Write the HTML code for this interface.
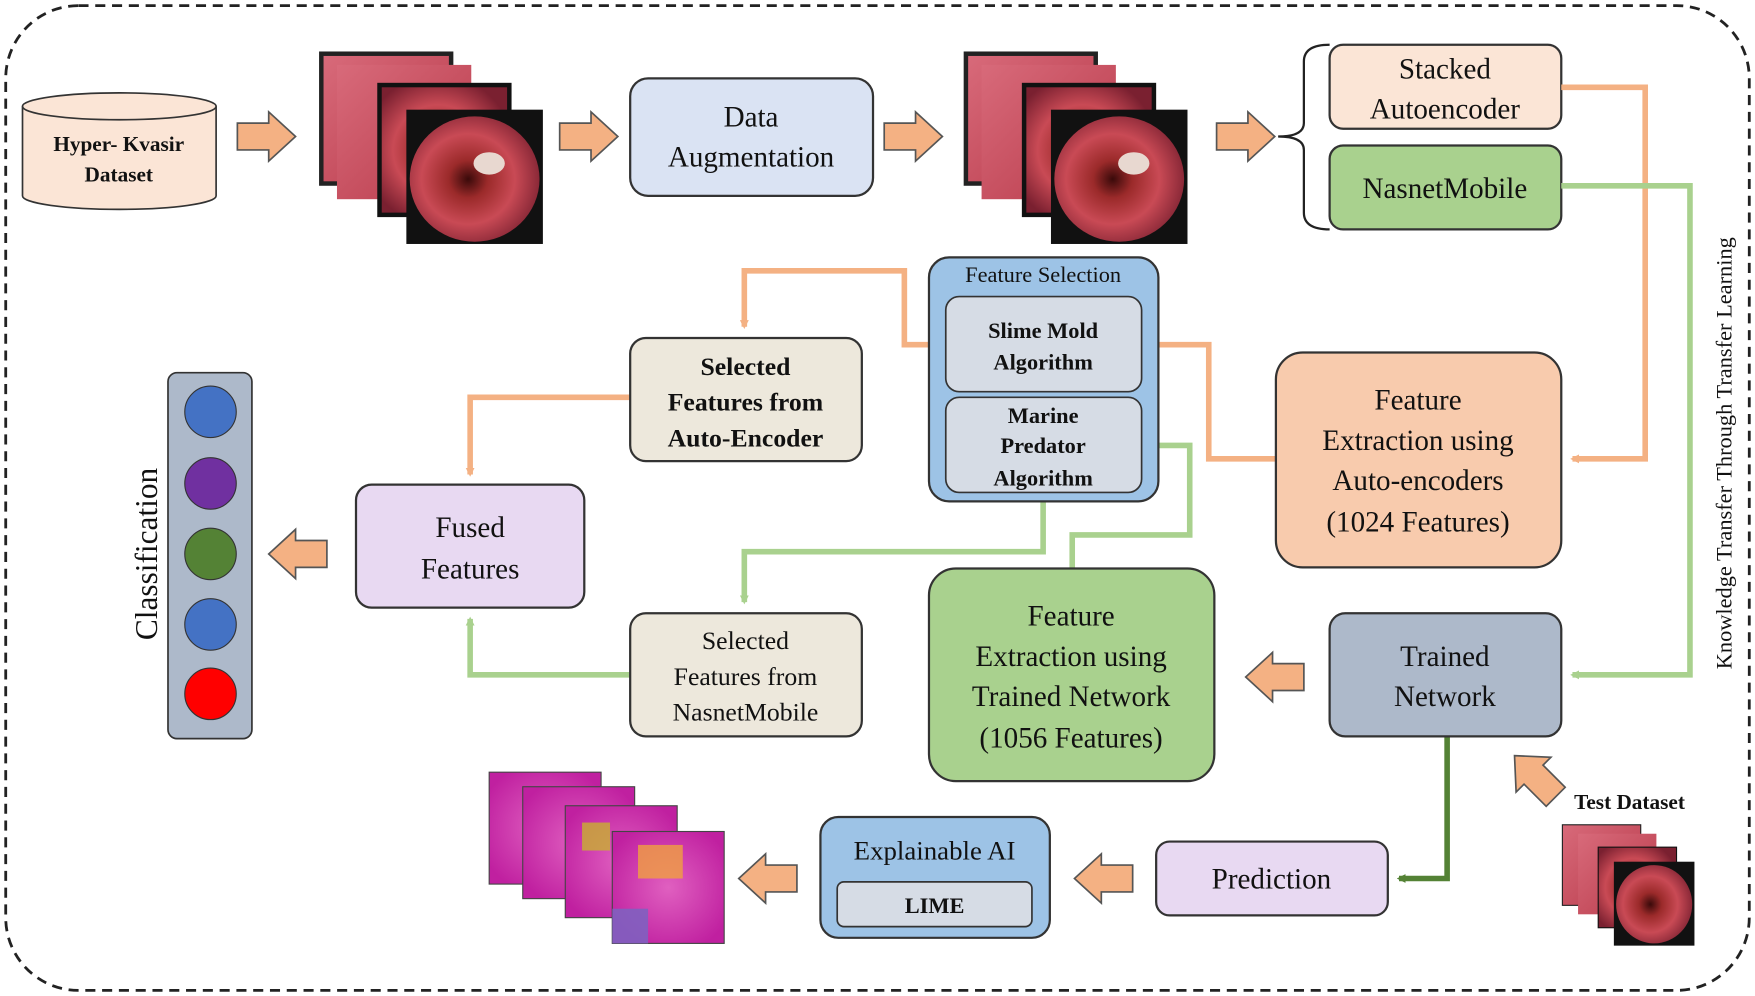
<!DOCTYPE html>
<html><head><meta charset="utf-8"><style>
html,body{margin:0;padding:0;background:#fff;width:1755px;height:996px;overflow:hidden}
svg{display:block}
text{font-family:"Liberation Serif",serif;fill:#111}
</style></head><body>
<svg width="1755" height="996" viewBox="0 0 1568 890" xmlns="http://www.w3.org/2000/svg">
<defs>
<radialGradient id="endo" cx="0.45" cy="0.5" r="0.6">
<stop offset="0" stop-color="#3a0a0a"/><stop offset="0.25" stop-color="#9b2a2a"/><stop offset="0.6" stop-color="#c94a55"/><stop offset="1" stop-color="#7a2030"/></radialGradient>
<linearGradient id="endo2" x1="0" y1="0" x2="1" y2="1"><stop offset="0" stop-color="#d86a7a"/><stop offset="1" stop-color="#b83a4a"/></linearGradient>
<radialGradient id="lime" cx="0.5" cy="0.5" r="0.6"><stop offset="0" stop-color="#e060c0"/><stop offset="1" stop-color="#c020a0"/></radialGradient>
<marker id="ao" markerWidth="8" markerHeight="8" refX="6" refY="4" orient="auto" markerUnits="userSpaceOnUse"><path d="M0,0 L8,4 L0,8 Z" fill="#f4b183"/></marker>
<marker id="ag" markerWidth="8" markerHeight="8" refX="6" refY="4" orient="auto" markerUnits="userSpaceOnUse"><path d="M0,0 L8,4 L0,8 Z" fill="#a9d18e"/></marker>
<marker id="adg" markerWidth="8" markerHeight="8" refX="6" refY="4" orient="auto" markerUnits="userSpaceOnUse"><path d="M0,0 L8,4 L0,8 Z" fill="#548235"/></marker>
<g id="barrow"><path d="M0,-12 L28,-12 L28,-22 L52,0 L28,22 L28,12 L0,12 Z" fill="#f4b183" stroke="#555" stroke-width="1.5"/></g>
<g id="stack">
<rect x="0" y="0" width="120" height="120" fill="#222"/><rect x="4" y="4" width="112" height="112" fill="url(#endo2)"/>
<rect x="16" y="12" width="120" height="120" fill="url(#endo2)"/>
<rect x="52" y="28" width="120" height="120" fill="#111"/><rect x="56" y="32" width="112" height="112" fill="url(#endo)"/>
<rect x="78" y="52" width="122" height="120" fill="#111"/><ellipse cx="139" cy="114" rx="58" ry="56" fill="url(#endo)"/>
<ellipse cx="152" cy="100" rx="14" ry="10" fill="#e8d8d0"/>
</g>
</defs>
<rect x="5" y="5" width="1558" height="880" rx="65" fill="#fff" stroke="#222" stroke-width="2.5" stroke-dasharray="9,6"/>

<!-- cylinder -->
<path d="M20,95 L20,175 A86,12 0 0 0 193,175 L193,95" fill="#fbe5d6" stroke="#333" stroke-width="1.5"/>
<ellipse cx="106.5" cy="95" rx="86.5" ry="12" fill="#fbe5d6" stroke="#333" stroke-width="1.5"/>
<text x="106" y="135" font-size="19" font-weight="bold" text-anchor="middle">Hyper- Kvasir</text>
<text x="106" y="162" font-size="19" font-weight="bold" text-anchor="middle">Dataset</text>

<use href="#barrow" x="212" y="122"/>
<use href="#stack" x="285" y="46"/>
<use href="#barrow" x="500" y="122"/>
<rect x="563" y="70" width="217" height="105" rx="16" fill="#dae3f3" stroke="#333" stroke-width="2"/>
<text x="671" y="113" font-size="26" text-anchor="middle">Data</text>
<text x="671" y="149" font-size="26" text-anchor="middle">Augmentation</text>
<use href="#barrow" x="790" y="122"/>
<use href="#stack" x="861" y="46"/>
<use href="#barrow" x="1087" y="122"/>
<path d="M1188,40 Q1165,40 1165,55 L1165,110 Q1165,122 1142,122 Q1165,122 1165,134 L1165,190 Q1165,205 1188,205" fill="none" stroke="#222" stroke-width="2"/>
<rect x="1188" y="40" width="207" height="75" rx="12" fill="#fbe5d6" stroke="#333" stroke-width="2"/>
<text x="1291" y="70" font-size="26" text-anchor="middle">Stacked</text>
<text x="1291" y="106" font-size="26" text-anchor="middle">Autoencoder</text>
<rect x="1188" y="130" width="207" height="75" rx="12" fill="#a9d18e" stroke="#333" stroke-width="2"/>
<text x="1291" y="177" font-size="26" text-anchor="middle">NasnetMobile</text>

<!-- connectors -->
<polyline points="1395,78 1470,78 1470,410 1405,410" fill="none" stroke="#f4b183" stroke-width="5" marker-end="url(#ao)"/>
<polyline points="1395,166 1510,166 1510,603 1405,603" fill="none" stroke="#a9d18e" stroke-width="5" marker-end="url(#ag)"/>
<text transform="translate(1547,405) rotate(-90)" font-size="20" text-anchor="middle">Knowledge Transfer Through Transfer Learning</text>

<polyline points="1140,410 1080,410 1080,308 1030,308" fill="none" stroke="#f4b183" stroke-width="5" marker-end="url(#ao)"/>
<polyline points="845,308 808,308 808,242 665,242 665,292" fill="none" stroke="#f4b183" stroke-width="5" marker-end="url(#ao)"/>
<polyline points="563,355 420,355 420,424" fill="none" stroke="#f4b183" stroke-width="5" marker-end="url(#ao)"/>
<polyline points="932,440 932,493 665,493 665,538" fill="none" stroke="#a9d18e" stroke-width="5" marker-end="url(#ag)"/>
<polyline points="563,603 420,603 420,553" fill="none" stroke="#a9d18e" stroke-width="5" marker-end="url(#ag)"/>
<polyline points="958,508 958,478 1063,478 1063,398 1030,398" fill="none" stroke="#a9d18e" stroke-width="5" marker-end="url(#ag)"/>
<polyline points="1293,658 1293,785 1250,785" fill="none" stroke="#548235" stroke-width="5" marker-end="url(#adg)"/>

<!-- feature selection -->
<rect x="830" y="230" width="205" height="218" rx="18" fill="#9dc3e6" stroke="#333" stroke-width="2"/>
<text x="932" y="252" font-size="20" text-anchor="middle">Feature Selection</text>
<rect x="845" y="265" width="175" height="85" rx="12" fill="#d6dce5" stroke="#333" stroke-width="1.5"/>
<text x="932" y="302" font-size="20" font-weight="bold" text-anchor="middle">Slime Mold</text>
<text x="932" y="330" font-size="20" font-weight="bold" text-anchor="middle">Algorithm</text>
<rect x="845" y="355" width="175" height="85" rx="12" fill="#d6dce5" stroke="#333" stroke-width="1.5"/>
<text x="932" y="378" font-size="20" font-weight="bold" text-anchor="middle">Marine</text>
<text x="932" y="405" font-size="20" font-weight="bold" text-anchor="middle">Predator</text>
<text x="932" y="434" font-size="20" font-weight="bold" text-anchor="middle">Algorithm</text>

<rect x="1140" y="315" width="255" height="192" rx="24" fill="#f8cbad" stroke="#333" stroke-width="2"/>
<text x="1267" y="366" font-size="26" text-anchor="middle">Feature</text>
<text x="1267" y="402" font-size="26" text-anchor="middle">Extraction using</text>
<text x="1267" y="438" font-size="26" text-anchor="middle">Auto-encoders</text>
<text x="1267" y="475" font-size="26" text-anchor="middle">(1024 Features)</text>

<rect x="563" y="302" width="207" height="110" rx="14" fill="#ede8dc" stroke="#333" stroke-width="2"/>
<text x="666" y="335" font-size="23" font-weight="bold" text-anchor="middle">Selected</text>
<text x="666" y="367" font-size="23" font-weight="bold" text-anchor="middle">Features from</text>
<text x="666" y="399" font-size="23" font-weight="bold" text-anchor="middle">Auto-Encoder</text>

<rect x="318" y="433" width="204" height="110" rx="14" fill="#e8d9f2" stroke="#333" stroke-width="2"/>
<text x="420" y="480" font-size="26" text-anchor="middle">Fused</text>
<text x="420" y="517" font-size="26" text-anchor="middle">Features</text>
<use href="#barrow" transform="translate(292,495) scale(-1,1)"/>

<rect x="150" y="333" width="75" height="327" rx="8" fill="#adb9ca" stroke="#333" stroke-width="1.5"/>
<circle cx="188" cy="368" r="23" fill="#4472c4" stroke="#333"/>
<circle cx="188" cy="432" r="23" fill="#7030a0" stroke="#333"/>
<circle cx="188" cy="495" r="23" fill="#548235" stroke="#333"/>
<circle cx="188" cy="558" r="23" fill="#4472c4" stroke="#333"/>
<circle cx="188" cy="620" r="23" fill="#ff0000" stroke="#333"/>
<text transform="translate(140,495) rotate(-90)" font-size="28" text-anchor="middle">Classification</text>

<rect x="563" y="548" width="207" height="110" rx="14" fill="#ede8dc" stroke="#333" stroke-width="2"/>
<text x="666" y="580" font-size="23" text-anchor="middle">Selected</text>
<text x="666" y="612" font-size="23" text-anchor="middle">Features from</text>
<text x="666" y="644" font-size="23" text-anchor="middle">NasnetMobile</text>

<rect x="830" y="508" width="255" height="190" rx="24" fill="#a9d18e" stroke="#333" stroke-width="2"/>
<text x="957" y="559" font-size="26" text-anchor="middle">Feature</text>
<text x="957" y="595" font-size="26" text-anchor="middle">Extraction using</text>
<text x="957" y="631" font-size="26" text-anchor="middle">Trained Network</text>
<text x="957" y="668" font-size="26" text-anchor="middle">(1056 Features)</text>
<use href="#barrow" transform="translate(1165,605) scale(-1,1)"/>

<rect x="1188" y="548" width="207" height="110" rx="14" fill="#adb9ca" stroke="#333" stroke-width="2"/>
<text x="1291" y="595" font-size="26" text-anchor="middle">Trained</text>
<text x="1291" y="631" font-size="26" text-anchor="middle">Network</text>

<rect x="1033" y="752" width="207" height="66" rx="12" fill="#e8d9f2" stroke="#333" stroke-width="2"/>
<text x="1136" y="794" font-size="26" text-anchor="middle">Prediction</text>
<use href="#barrow" transform="translate(1012,785) scale(-1,1)"/>

<rect x="733" y="730" width="205" height="108" rx="16" fill="#9dc3e6" stroke="#333" stroke-width="2"/>
<text x="835" y="768" font-size="24" text-anchor="middle">Explainable  AI</text>
<rect x="748" y="788" width="174" height="40" rx="6" fill="#d6dce5" stroke="#333" stroke-width="1.5"/>
<text x="835" y="816" font-size="20" font-weight="bold" text-anchor="middle">LIME</text>
<use href="#barrow" transform="translate(712,785) scale(-1,1)"/>

<!-- LIME images -->
<rect x="437" y="690" width="100" height="100" fill="url(#lime)" stroke="#444"/>
<rect x="467" y="703" width="100" height="100" fill="url(#lime)" stroke="#444"/>
<rect x="505" y="720" width="100" height="100" fill="url(#lime)" stroke="#444"/>
<rect x="520" y="735" width="25" height="25" fill="#c8b030" opacity="0.8"/>
<rect x="547" y="743" width="100" height="100" fill="url(#lime)" stroke="#444"/>
<rect x="570" y="755" width="40" height="30" fill="#f0a040" opacity="0.8"/>
<rect x="547" y="812" width="32" height="31" fill="#8060c0" opacity="0.9"/>

<!-- Test dataset -->
<path d="M0,-12 L28,-12 L28,-22 L52,0 L28,22 L28,12 L0,12 Z" transform="translate(1390,712) rotate(-135)" fill="#f4b183" stroke="#555" stroke-width="1.5"/>
<text x="1456" y="723" font-size="19" font-weight="bold" text-anchor="middle">Test Dataset</text>
<rect x="1396" y="737" width="70" height="72" fill="url(#endo2)" stroke="#222"/>
<rect x="1410" y="745" width="70" height="72" fill="url(#endo2)"/>
<rect x="1428" y="757" width="70" height="72" fill="url(#endo)" stroke="#111"/>
<rect x="1442" y="770" width="72" height="75" fill="#111"/><ellipse cx="1478" cy="808" rx="34" ry="35" fill="url(#endo)"/>
</svg>
</body></html>
